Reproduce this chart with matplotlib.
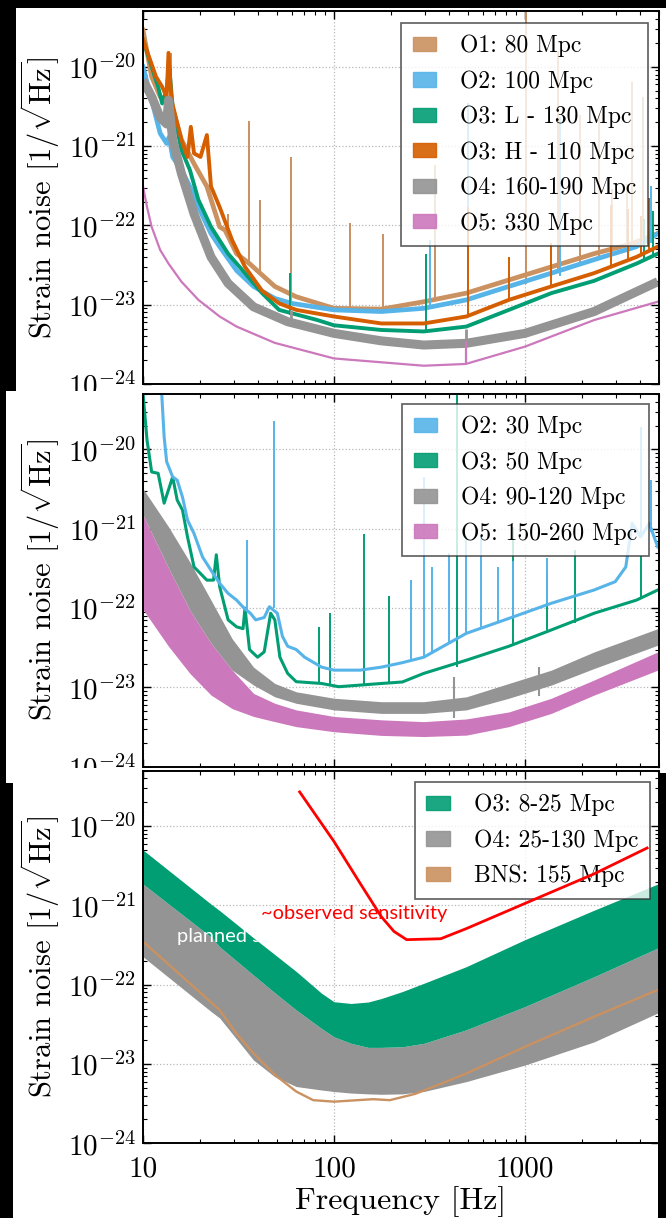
import matplotlib
matplotlib.use("Agg")
import matplotlib.pyplot as plt
from matplotlib.patches import Rectangle, Patch

plt.rcParams['font.family'] = 'serif'
plt.rcParams['font.serif'] = ['cmr10']
plt.rcParams['mathtext.fontset'] = 'cm'
plt.rcParams['axes.unicode_minus'] = False
plt.rcParams['axes.formatter.use_mathtext'] = True

# colours (seaborn colorblind)
c_o1 = '#ca9161'
c_o2 = '#56b4e9'
c_o3l = '#029e73'
c_o3h = '#d55e00'
c_o4 = '#949494'
c_o5 = '#cc78bc'
c_obs = '#ff0000'

# ---------------- panel 1 : LIGO ----------------
p1_labels = ['O1: 80 Mpc', 'O2: 100 Mpc', 'O3: L - 130 Mpc',
             'O3: H - 110 Mpc', 'O4: 160-190 Mpc', 'O5: 330 Mpc']

p1_o1_f = [10, 11.1, 12.3, 13.4, 14.5, 15.9, 18.5, 21.6, 25.2, 26.9, 30.9, 36.1, 41.0, 49.0,
           63.4, 100, 177, 295, 493, 823, 1374, 2300, 3640, 4955]
p1_o1_h = [2.9e-20, 7.5e-21, 4.2e-21, 3.8e-21, 2.6e-21, 1.2e-21, 6.0e-22, 3.1e-22, 9.6e-23, 8.7e-23,
           4.4e-23, 3.3e-23, 2.5e-23, 1.7e-23, 1.26e-23, 9.0e-24, 8.8e-24, 1.09e-23, 1.4e-23,
           2.05e-23, 3.0e-23, 4.4e-23, 5.9e-23, 7.9e-23]
p1_o1_spk_f = [14.0, 27.9, 36.1, 41.0, 59.6, 121, 181, 338, 1010, 1490, 1940, 2440, 2850, 3420, 3630, 4150]
p1_o1_spk_lo = [3.5e-21, 8.7e-23, 3.3e-23, 2.5e-23, 1.4e-23, 9e-24, 8.8e-24, 1.1e-23, 1.8e-23,
                2.6e-23, 3.3e-23, 4.0e-23, 4.6e-23, 5.4e-23, 5.9e-23, 6.6e-23]
p1_o1_spk_hi = [1.5e-20, 1.4e-22, 2.1e-21, 2.1e-22, 7.3e-22, 1.06e-22, 7.9e-23, 5.8e-22, 6e-20,
                1.6e-20, 2.5e-21, 2.5e-21, 2.9e-22, 3.3e-22, 6.5e-21, 4.2e-21]

p1_o2_f = [10, 11.1, 12.3, 13.3, 13.7, 14.3, 15.9, 17.6, 19.5, 22.7, 25.2, 30.9, 37.9, 49.0, 60.0,
           100, 177, 295, 493, 823, 1374, 2300, 3835, 4955]
p1_o2_h = [1.0e-20, 3.8e-21, 1.45e-21, 1.08e-21, 1.3e-21, 7.3e-22, 5.0e-22, 3.1e-22, 1.7e-22, 7.9e-23,
           5.4e-23, 2.7e-23, 1.7e-23, 1.2e-23, 1.04e-23, 8.6e-24, 8.2e-24, 9.0e-24, 1.15e-23,
           1.7e-23, 2.5e-23, 3.7e-23, 5.4e-23, 7.9e-23]
p1_o2_spk_f = [59.6, 319, 506, 1524, 4580]
p1_o2_spk_lo = [1.04e-23, 9e-24, 1.15e-23, 2.3e-23, 6e-23]
p1_o2_spk_hi = [2.3e-23, 6.5e-23, 3.5e-21, 2.3e-21, 3.1e-22]

p1_o3l_f = [10, 11.1, 12.0, 12.6, 13.3, 13.7, 14.3, 15.9, 17.6, 19.5, 22.7, 27.9, 34.2, 42.0, 51.6,
            81.9, 100, 177, 295, 493, 823, 1374, 2300, 3835, 4955]
p1_o3l_h = [2.2e-20, 1.0e-20, 5.6e-21, 3.45e-21, 5.1e-21, 1.05e-20, 3.1e-21, 8.9e-22, 5.0e-22,
            2.1e-22, 9.6e-23, 4.4e-23, 2.5e-23, 1.4e-23, 8.6e-24, 6.4e-24, 5.5e-24, 4.8e-24,
            4.6e-24, 5.3e-24, 8.6e-24, 1.4e-23, 2.0e-23, 3.3e-23, 4.4e-23]
p1_o3l_spk_f = [58.5, 303, 4200, 4700]
p1_o3l_spk_lo = [7.5e-24, 4.6e-24, 3.8e-23, 4.2e-23]
p1_o3l_spk_hi = [2.5e-23, 4.4e-23, 1.2e-22, 1.5e-22]

p1_o3h_f = [10, 11.7, 12.6, 13.3, 13.6, 14.1, 15.9, 17.1, 17.8, 18.5, 20.0, 21.6, 22.7, 25.2, 29.3,
            34.2, 42.0, 51.6, 63.4, 100, 177, 295, 493, 823, 1374, 2300, 3835, 4955]
p1_o3h_h = [2.2e-20, 7.5e-21, 5.6e-21, 4.2e-21, 1.5e-20, 3.8e-21, 1.2e-21, 7.3e-22, 1.75e-21,
            8.1e-22, 7.3e-22, 1.38e-21, 3.1e-22, 1.7e-22, 6.5e-23, 3.0e-23, 1.5e-23, 1.04e-23,
            8.6e-24, 7.1e-24, 5.8e-24, 5.8e-24, 7.1e-24, 1.15e-23, 1.7e-23, 2.5e-23, 4.0e-23, 5.4e-23]
p1_o3h_spk_f = [506, 823, 1374, 2820, 3460, 4040, 4470]
p1_o3h_spk_lo = [7.1e-24, 1.15e-23, 1.7e-23, 3e-23, 3.6e-23, 4.2e-23, 4.7e-23]
p1_o3h_spk_hi = [1.7e-22, 4e-23, 6e-23, 1.8e-22, 1.6e-22, 1.3e-22, 2.2e-22]

p1_o4_f = [10, 11.1, 12.3, 13.3, 13.6, 14.3, 15.9, 18.5, 22.7, 27.9, 37.9, 57.2, 100, 177, 295, 493,
           1000, 2300, 4955]
p1_o4_h = [6.8e-21, 4.2e-21, 2.3e-21, 1.9e-21, 3.8e-21, 1.2e-21, 4.5e-22, 1.4e-22, 4.0e-23, 1.86e-23,
           9.4e-24, 6.1e-24, 4.35e-24, 3.5e-24, 3.1e-24, 3.26e-24, 4.35e-24, 8.2e-24, 1.95e-23]
p1_o4_spk_f = [59.6, 493]
p1_o4_spk_lo = [6e-24, 3.3e-24]
p1_o4_spk_hi = [8.6e-24, 5e-24]

p1_o5_f = [10, 10.5, 11.1, 12.3, 13.6, 15.9, 19.5, 25.2, 30.9, 49.0, 100, 295, 490, 1000, 2300, 4955]
p1_o5_h = [3.1e-22, 1.7e-22, 9.6e-23, 4.9e-23, 3.3e-23, 1.95e-23, 1.15e-23, 7.1e-24, 5.3e-24,
           3.3e-24, 2.1e-24, 1.7e-24, 1.79e-24, 2.96e-24, 6.4e-24, 1.09e-23]
p1_o5_spk_f = [493]
p1_o5_spk_lo = [1.79e-24]
p1_o5_spk_hi = [3.5e-24]

# ---------------- panel 2 : Virgo ----------------
p2_labels = ['O2: 30 Mpc', 'O3: 50 Mpc', 'O4: 90-120 Mpc', 'O5: 150-260 Mpc']

p2_f = [10, 13.6, 17.6, 22.7, 29.3, 37.9, 49.0, 63.4, 100, 177, 295, 493, 823, 1374, 2300, 4955]
p2_o4_hi = [3.2e-21, 1.06e-21, 3.8e-22, 1.26e-22, 4.1e-23, 1.8e-23, 1.12e-23, 8.8e-24, 7.3e-24,
            6.6e-24, 6.6e-24, 7.6e-24, 1.12e-23, 1.65e-23, 2.8e-23, 5.5e-23]
p2_o4_lo = [1.49e-21, 3.2e-22, 9.4e-23, 3.6e-23, 1.65e-23, 1.07e-23, 7.6e-24, 6.3e-24, 5.2e-24,
            4.7e-24, 4.7e-24, 5.2e-24, 7.3e-24, 1.07e-23, 1.73e-23, 3.4e-23]
p2_o5_hi = [1.49e-21, 3.2e-22, 9.4e-23, 3.6e-23, 1.65e-23, 8.4e-24, 6.3e-24, 5.2e-24, 4.3e-24,
            3.9e-24, 3.7e-24, 4.0e-24, 4.9e-24, 7.3e-24, 1.24e-23, 2.8e-23]
p2_o5_lo = [9.6e-23, 3.3e-23, 1.5e-23, 8.0e-24, 5.4e-24, 4.3e-24, 3.7e-24, 3.2e-24, 2.76e-24,
            2.48e-24, 2.4e-24, 2.5e-24, 3.2e-24, 4.7e-24, 8.0e-24, 1.65e-23]
p2_o4_spk_f = [427, 1190]
p2_o4_spk_lo = [4.1e-24, 7.9e-24]
p2_o4_spk_hi = [1.36e-23, 1.8e-23]

p2_o2_f = [12.5, 12.9, 13.3, 14.3, 15.1, 16.1, 17.1, 18.5, 20.5, 22.7, 25.2, 27.9, 30.9, 33.9, 36.5,
           38.9, 43.1, 45.9, 50.5, 53.7, 57.2, 63.4, 70.2, 86.1, 100, 137, 177, 228, 295, 493, 823,
           1374, 2300, 2966, 3370, 3640, 4035, 4470, 4955]
p2_o2_h = [5.6e-20, 1.45e-20, 7.0e-21, 4.5e-21, 4.1e-21, 2.5e-21, 1.29e-21, 8.7e-22, 4.4e-22, 3.0e-22,
           2.05e-22, 1.53e-22, 1.26e-22, 9.9e-23, 8.6e-23, 7.1e-23, 7.6e-23, 1.04e-22, 8.6e-23,
           4.4e-23, 3.3e-23, 3.0e-23, 2.4e-23, 1.8e-23, 1.65e-23, 1.65e-23, 1.8e-23, 2.05e-23,
           2.4e-23, 4.8e-23, 7.4e-23, 1.15e-22, 1.69e-22, 2.15e-22, 3.3e-22, 1.17e-21, 7.9e-22,
           1.17e-21, 5.9e-22]
p2_o2_spk_f = [35.1, 48.5, 253, 295, 327, 401, 493, 590, 725, 866, 1306, 4035, 4580]
p2_o2_spk_lo = [9.5e-23, 1.0e-22, 2.2e-23, 2.4e-23, 2.6e-23, 3.5e-23, 4.8e-23, 5.5e-23, 6.8e-23,
                8e-23, 1.15e-22, 8e-22, 9e-22]
p2_o2_spk_hi = [7.2e-22, 2.3e-20, 2.25e-22, 4.5e-21, 3.3e-22, 4.9e-22, 8e-22, 8e-22, 3.3e-22,
                3.9e-22, 4.3e-22, 1.9e-20, 4.1e-21]

p2_o3_f = [10, 10.5, 11.1, 12.0, 12.9, 14.3, 15.1, 16.1, 17.1, 18.5, 21.6, 23.4, 24.2, 25.2, 27.9,
           30.9, 33.4, 34.2, 36.1, 39.8, 43.1, 46.6, 49.0, 52.1, 57.2, 63.4, 86.1, 106, 177, 228,
           295, 493, 823, 1374, 2300, 3835, 4955]
p2_o3_h = [5.1e-20, 1.3e-20, 5.2e-21, 5.0e-21, 2.1e-21, 4.5e-21, 2.3e-21, 1.72e-21, 7.9e-22, 3.3e-22,
           2.25e-22, 2.25e-22, 4.7e-22, 1.86e-22, 7.1e-23, 5.8e-23, 5.5e-23, 1.0e-22, 3.0e-23,
           2.4e-23, 2.8e-23, 8.6e-23, 7.1e-23, 2.4e-23, 1.5e-23, 1.18e-23, 1.12e-23, 1.02e-23,
           1.12e-23, 1.17e-23, 1.5e-23, 2.2e-23, 3.3e-23, 5.3e-23, 8.6e-23, 1.26e-22, 1.69e-22]
p2_o3_spk_f = [83, 95, 144, 194, 440, 866, 1306, 1824, 4035]
p2_o3_spk_lo = [1.1e-23, 1.05e-23, 1.1e-23, 1.15e-23, 1.8e-23, 3.3e-23, 5.3e-23, 6.5e-23, 1.3e-22]
p2_o3_spk_hi = [5.8e-23, 8.6e-23, 8.7e-22, 1.4e-22, 6e-20, 1.06e-21, 2.7e-22, 5.4e-22, 4.5e-22]

# ---------------- panel 3 : KAGRA ----------------
p3_labels = ['O3: 8-25 Mpc', 'O4: 25-130 Mpc', 'BNS: 155 Mpc']

p3_f = [10, 22.7, 25.2, 37.9, 49.0, 63.4, 86.1, 100, 123, 151, 177, 228, 295, 493, 1000, 2300, 4955]
p3_o3_hi = [5.0e-21, 1.04e-21, 8.6e-22, 3.9e-22, 2.4e-22, 1.47e-22, 7.8e-23, 6.1e-23, 5.8e-23,
            6.05e-23, 6.7e-23, 8.2e-23, 1.04e-22, 1.69e-22, 3.7e-22, 8.7e-22, 1.86e-21]
p3_o3_lo = [1.86e-21, 4.0e-22, 3.0e-22, 1.32e-22, 7.9e-23, 4.8e-23, 2.8e-23, 2.2e-23, 1.82e-23,
            1.62e-23, 1.62e-23, 1.65e-23, 1.82e-23, 2.7e-23, 5.3e-23, 1.26e-22, 2.9e-22]
p3_o4_lo = [2.25e-22, 4.6e-23, 3.8e-23, 1.12e-23, 6.9e-24, 5.2e-24, 4.7e-24, 4.5e-24, 4.3e-24,
            4.2e-24, 4.15e-24, 4.2e-24, 4.5e-24, 6.0e-24, 9.7e-24, 1.9e-23, 4.4e-23]

p3_bns_f = [10, 25.2, 30.9, 37.9, 49.0, 63.4, 77.8, 100, 160, 196, 266, 401, 493, 1000, 2300, 4955]
p3_bns_h = [3.5e-22, 4.8e-23, 2.4e-23, 1.36e-23, 7.3e-24, 4.5e-24, 3.5e-24, 3.35e-24, 3.6e-24,
            3.5e-24, 4.2e-24, 6.2e-24, 7.6e-24, 1.65e-23, 3.95e-23, 8.6e-23]

p3_obs_f = [66.1, 100, 137, 177, 206, 240, 362, 493, 1000, 2300, 4360]
p3_obs_h = [2.7e-20, 6.4e-21, 1.9e-21, 7.2e-22, 4.7e-22, 3.7e-22, 3.8e-22, 5.1e-22, 1.06e-21,
            2.5e-21, 5.3e-21]

xticks = [10, 100, 1000]
xticklabels = ['10', '100', '1000']

# ---------------- layout ----------------
W, H = 666, 1218
fig = plt.figure(figsize=(W / 100, H / 100), dpi=100, facecolor='black')


def px_box(x0, y0, x1, y1):
    return [x0 / W, 1 - y1 / H, (x1 - x0) / W, (y1 - y0) / H]


def white_bg(x0, y0, x1, y1, z):
    l, b, w, h = px_box(x0, y0, x1, y1)
    fig.add_artist(Rectangle((l, b), w, h, transform=fig.transFigure,
                             facecolor='white', edgecolor='none', zorder=z))


def make_axes(y_top, y_bot, z):
    ax = fig.add_axes(px_box(143, y_top, 658.5, y_bot))
    ax.set_zorder(z)
    ax.set_xscale('log')
    ax.set_yscale('log')
    ax.set_xlim(10, 5000)
    ax.set_ylim(1e-24, 5e-20)
    ax.set_axisbelow(True)
    ax.grid(True, which='major', ls=':', color='#b8b8b8', lw=0.9)
    ax.tick_params(which='both', direction='in', top=True, right=True, labelsize=21)
    ax.tick_params(which='major', length=6, width=1.0, pad=5)
    ax.tick_params(which='minor', length=3, width=0.8)
    for s in ax.spines.values():
        s.set_linewidth(1.4)
    ax.set_xticks(xticks)
    ax.set_xticklabels(xticklabels)
    ax.set_ylabel(r'Strain noise $[1/\sqrt{\mathrm{Hz}}]$', fontsize=22)
    ax.yaxis.set_label_coords(-0.158, 0.5)
    return ax


def spikes(ax, f, lo, hi, color, lw=1.4, z=2):
    ax.vlines(f, lo, hi, colors=color, lw=lw, zorder=z)


def legend(ax, labels, colors, anchor):
    handles = [Patch(facecolor=c, edgecolor=c, alpha=0.9) for c in colors]
    leg = ax.legend(handles, labels, loc='upper right', bbox_to_anchor=anchor,
                    borderaxespad=0, fontsize=17, fancybox=False, framealpha=0.8,
                    edgecolor='#333333', handlelength=1.0, handleheight=0.55,
                    handletextpad=1.0, labelspacing=0.55, borderpad=0.5)
    leg.get_frame().set_linewidth(1.2)
    leg.set_zorder(5)
    return leg


# panel 1
white_bg(16, 8, 666, 391, 1)
ax1 = make_axes(11.4, 384, 2)
ax1.plot(p1_o1_f, p1_o1_h, color=c_o1, lw=3.4, zorder=2)
spikes(ax1, p1_o1_spk_f, p1_o1_spk_lo, p1_o1_spk_hi, c_o1)
ax1.plot(p1_o2_f, p1_o2_h, color=c_o2, lw=3.4, zorder=2.1)
spikes(ax1, p1_o2_spk_f, p1_o2_spk_lo, p1_o2_spk_hi, c_o2, z=2.1)
ax1.plot(p1_o3l_f, p1_o3l_h, color=c_o3l, lw=2.8, zorder=2.2)
spikes(ax1, p1_o3l_spk_f, p1_o3l_spk_lo, p1_o3l_spk_hi, c_o3l, z=2.2)
ax1.plot(p1_o3h_f, p1_o3h_h, color=c_o3h, lw=2.8, zorder=2.3)
spikes(ax1, p1_o3h_spk_f, p1_o3h_spk_lo, p1_o3h_spk_hi, c_o3h, z=2.3)
ax1.plot(p1_o4_f, p1_o4_h, color=c_o4, lw=6.5, zorder=2.4, solid_capstyle='butt')
spikes(ax1, p1_o4_spk_f, p1_o4_spk_lo, p1_o4_spk_hi, c_o4, lw=2, z=2.4)
ax1.plot(p1_o5_f, p1_o5_h, color=c_o5, lw=1.6, zorder=2.5)
spikes(ax1, p1_o5_spk_f, p1_o5_spk_lo, p1_o5_spk_hi, c_o5, lw=1.6, z=2.5)
ax1.tick_params(labelbottom=False)
legend(ax1, p1_labels, [c_o1, c_o2, c_o3l, c_o3h, c_o4, c_o5], (0.98, 0.969))

# panel 2
white_bg(6, 391, 666, 773, 3)
ax2 = make_axes(394, 766.7, 4)
ax2.fill_between(p2_f, p2_o5_lo, p2_o5_hi, color=c_o5, lw=0, zorder=2)
ax2.fill_between(p2_f, p2_o4_lo, p2_o4_hi, color=c_o4, lw=0, zorder=2.1)
spikes(ax2, p2_o4_spk_f, p2_o4_spk_lo, p2_o4_spk_hi, c_o4, lw=1.5, z=2.1)
ax2.plot(p2_o3_f, p2_o3_h, color=c_o3l, lw=2.2, zorder=2.2)
spikes(ax2, p2_o3_spk_f, p2_o3_spk_lo, p2_o3_spk_hi, c_o3l, z=2.2)
ax2.plot(p2_o2_f, p2_o2_h, color=c_o2, lw=2.2, zorder=2.3)
spikes(ax2, p2_o2_spk_f, p2_o2_spk_lo, p2_o2_spk_hi, c_o2, z=2.3)
ax2.tick_params(labelbottom=False)
legend(ax2, p2_labels, [c_o2, c_o3l, c_o4, c_o5], (0.9816, 0.9734))

# panel 3
white_bg(6, 768, 658, 783, 5)
white_bg(13, 768, 658, 1218, 5)
ax3 = make_axes(770.7, 1143.3, 6)
ax3.fill_between(p3_f, p3_o4_lo, p3_o3_lo, color=c_o4, lw=0, zorder=2)
ax3.fill_between(p3_f, p3_o3_lo, p3_o3_hi, color=c_o3l, lw=0, zorder=2.1)
ax3.plot(p3_bns_f, p3_bns_h, color=c_o1, lw=1.7, zorder=2.2)
ax3.plot(p3_obs_f, p3_obs_h, color=c_obs, lw=2.0, zorder=6)
ax3.tick_params(axis='x', pad=9)
ax3.set_xlabel('Frequency [Hz]', fontsize=23, labelpad=3)
legend(ax3, p3_labels, [c_o3l, c_o4, c_o1], (0.9835, 0.9697))
ax3.text(0.229, 0.618, '~observed sensitivity', transform=ax3.transAxes, color=c_obs,
         fontsize=14.4, family='Lato', ha='left', va='center', zorder=7)
ax3.text(0.066, 0.554, 'planned sensitivity', transform=ax3.transAxes, color='white',
         fontsize=14.4, family='Lato', ha='left', va='center', zorder=7)

fig.savefig('out.png', dpi=100, facecolor='black')
